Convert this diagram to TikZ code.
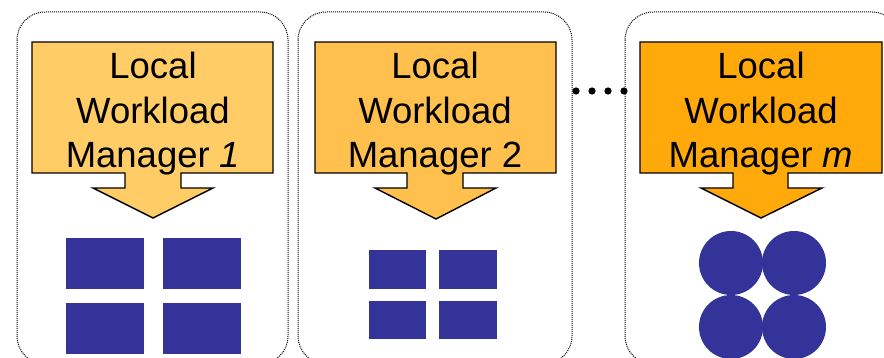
\documentclass[tikz,border=0pt]{standalone}
\usepackage{fontspec}
\setmainfont{Liberation Sans}
\begin{document}
\begin{tikzpicture}[x=1pt,y=-1pt,
  panel/.style={draw=black,line width=1pt,dash pattern=on 1pt off 1pt,rounded corners=28pt},
  callout/.style={draw=black,line width=1.4pt,line join=miter},
  cltext/.style={anchor=base,align=center,inner sep=0pt,font=\fontsize{36.5}{44.5}\selectfont},
  blk/.style={fill=blk},
  dotmark/.style={fill=black}]
\definecolor{blk}{RGB}{51,51,153}
\definecolor{c1}{RGB}{255,204,102}
\definecolor{c2}{RGB}{255,192,77}
\definecolor{c3}{RGB}{255,170,10}
\useasboundingbox (0,0) rectangle (884,358);
\begin{scope}
\clip (0,0) rectangle (884,358);
% panels
\draw[panel] (17,12) rectangle (288,364);
\draw[panel] (298,12) rectangle (572,364);
\draw[panel] (625,12) rectangle (900,364);
% callout 1
\draw[callout,fill=c1] (32,42) -- (273,42) -- (273,173) -- (181,173) -- (181,188) -- (213,188) -- (153,218) -- (93,188) -- (125,188) -- (125,173) -- (32,173) -- cycle;
% callout 2
\draw[callout,fill=c2] (315,42) -- (556,42) -- (556,173) -- (463,173) -- (463,188) -- (496,188) -- (436,219) -- (375,188) -- (407,188) -- (407,173) -- (315,173) -- cycle;
% callout 3
\draw[callout,fill=c3] (640,42) -- (882,42) -- (882,173) -- (788,173) -- (788,188) -- (822,188) -- (761,218) -- (701,188) -- (733,188) -- (733,173) -- (640,173) -- cycle;
\end{scope}
\node[cltext] (t1) at (153,168) {Local\\Workload\\Manager \textit{1}};
\node[cltext] (t2) at (435,168) {Local\\Workload\\Manager 2};
\node[cltext] (t3) at (761,168) {Local\\Workload\\Manager \textit{m}};
% blocks panel 1
\fill[blk] (66,238) rectangle (144,289);
\fill[blk] (163,238) rectangle (241,289);
\fill[blk] (66,303) rectangle (144,354);
\fill[blk] (163,303) rectangle (241,354);
% blocks panel 2
\fill[blk] (369,250) rectangle (426,289);
\fill[blk] (439,250) rectangle (497,289);
\fill[blk] (369,301) rectangle (426,339);
\fill[blk] (439,301) rectangle (497,339);
% circles panel 3
\fill[blk] (731,263) circle (32);
\fill[blk] (794,263) circle (32);
\fill[blk] (731,327) circle (32);
\fill[blk] (794,327) circle (32);
% dots
\foreach \x in {576,592,608,624} \fill[dotmark] (\x,91) circle (3.6);
\end{tikzpicture}
\end{document}
